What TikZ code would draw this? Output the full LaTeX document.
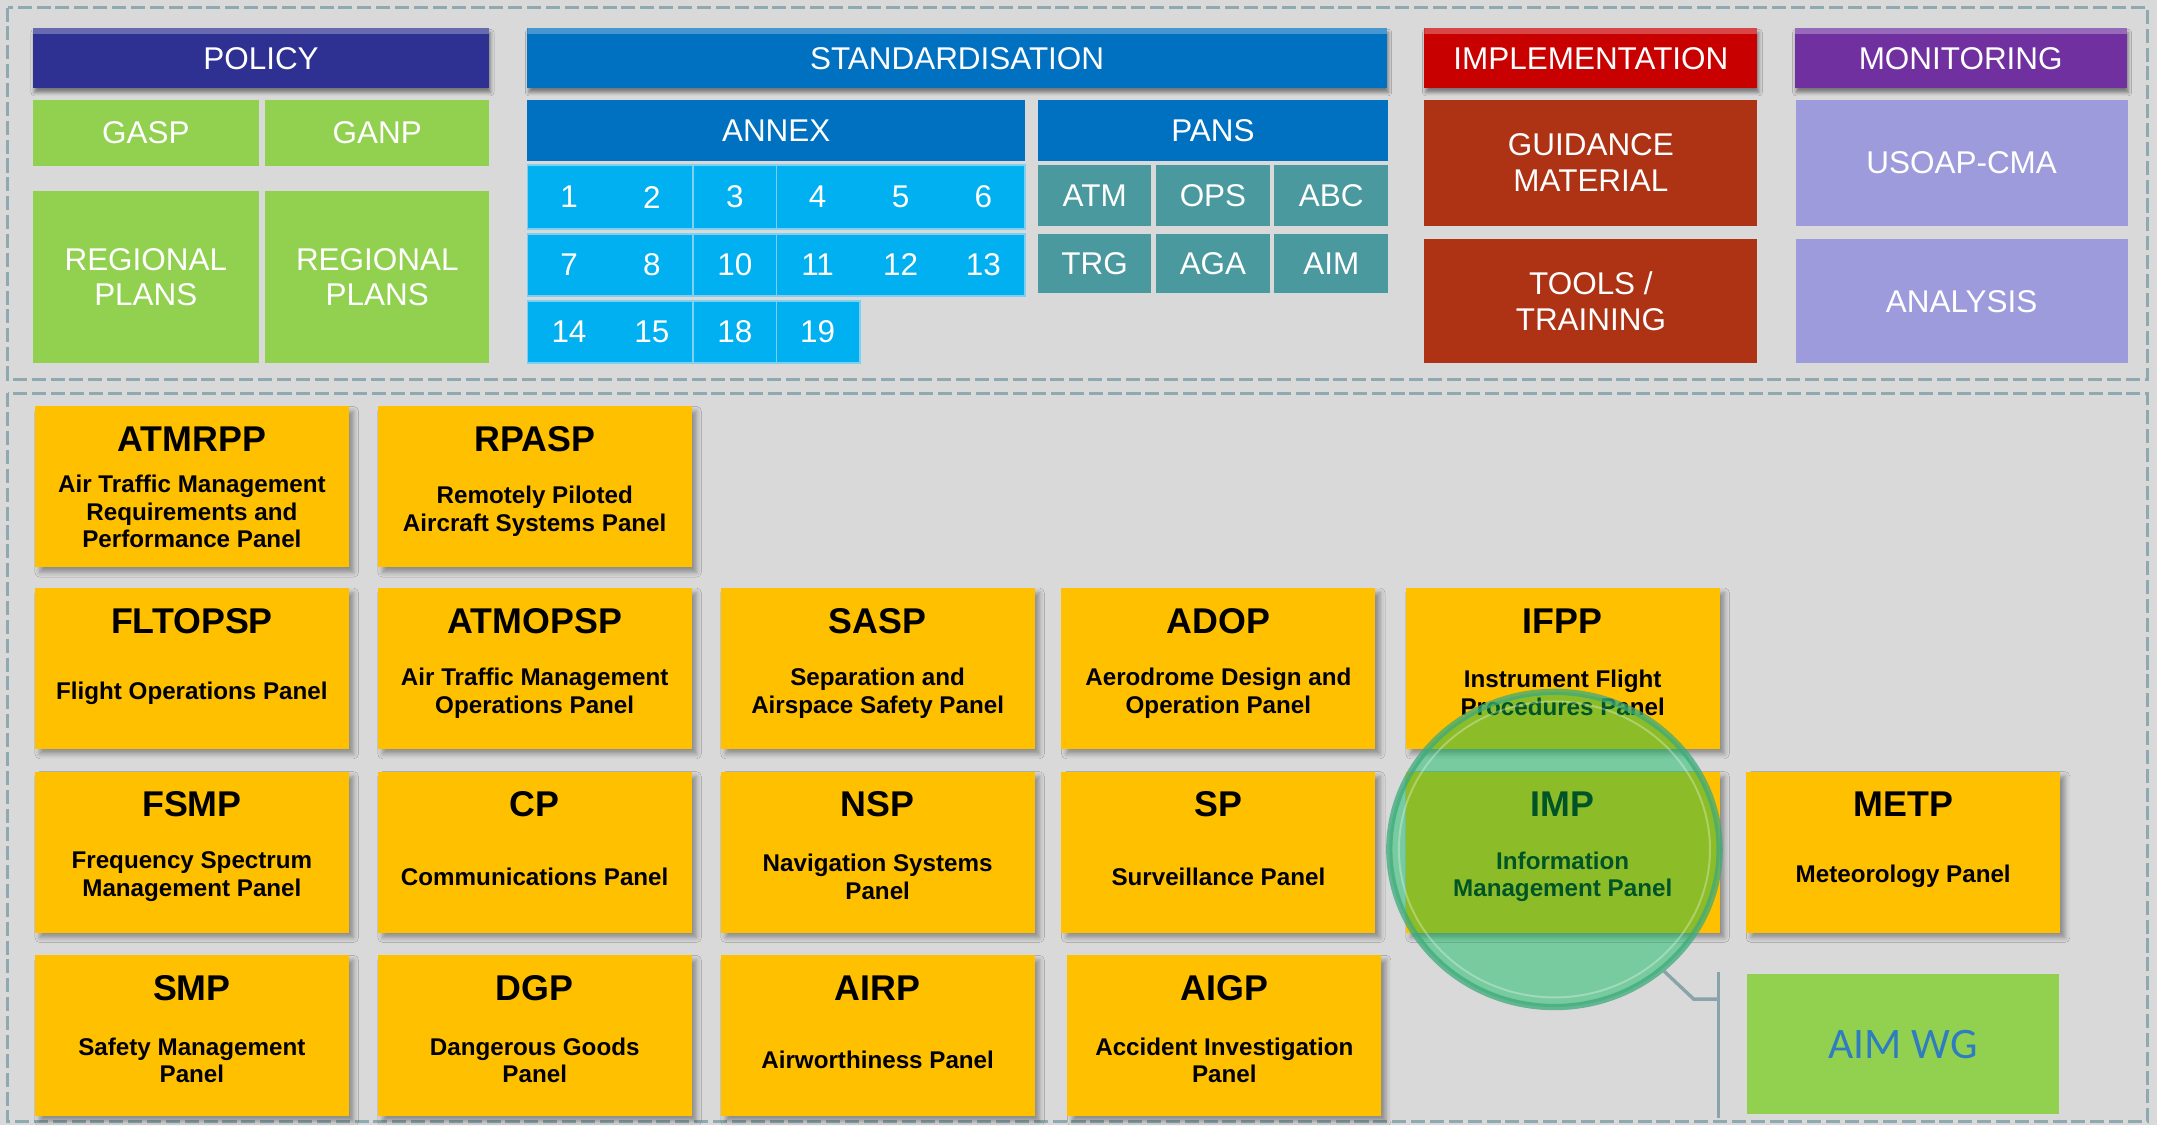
\documentclass[tikz,border=0pt]{standalone}
\usepackage{fontspec}
\setmainfont{Liberation Sans}
\newfontfamily\aimfont{Carlito}
\usetikzlibrary{shapes.geometric,shadows.blur}

\definecolor{bgray}{HTML}{D9D9D9}
\definecolor{frameline}{HTML}{8EA9AF}
\definecolor{policyblue}{HTML}{2E3192}
\definecolor{stdblue}{HTML}{0070C0}
\definecolor{implred}{HTML}{C80000}
\definecolor{monpurple}{HTML}{7030A0}
\definecolor{policygreen}{HTML}{92D050}
\definecolor{annexcyan}{HTML}{00B0F0}
\definecolor{annexline}{HTML}{7FD0EE}
\definecolor{panteal}{HTML}{4A999E}
\definecolor{guidebrown}{HTML}{AE3214}
\definecolor{monlilac}{HTML}{9E9BDD}
\definecolor{panelyellow}{HTML}{FFC000}
\definecolor{imgreen}{RGB}{0,187,89}
\definecolor{imring}{HTML}{3DAA7A}
\definecolor{bracketgray}{HTML}{89A3AA}
\definecolor{aimblue}{HTML}{2F7DC1}

\begin{document}
\begin{tikzpicture}[x=0.01cm,y=-0.01cm,
    header/.style={rectangle, fill=#1, text=white, inner sep=0pt, minimum height=0.434cm,
      font=\fontsize{6.5}{7.4}\selectfont,
      blur shadow={shadow xshift=0.3pt, shadow yshift=-0.9pt, shadow blur radius=0.7pt, shadow opacity=45},
      path picture={\fill[white, opacity=.28] (path picture bounding box.north west)
        rectangle ([yshift=-1.1pt]path picture bounding box.north east);}},
    tile/.style={rectangle, fill=#1, text=white, inner sep=0pt, align=center,
      font=\fontsize{6.5}{7.4}\selectfont},
    cell/.style={rectangle, fill=annexcyan, draw=annexline, line width=0.4pt, inner sep=0pt},
    num/.style={text=white, inner sep=0pt, font=\fontsize{6.5}{7.4}\selectfont},
    panel/.style={rectangle, fill=panelyellow, inner sep=0pt, minimum width=2.28cm, minimum height=1.17cm,
      blur shadow={shadow xshift=1pt, shadow yshift=-1pt, shadow blur radius=1pt, shadow opacity=35}},
    ptitle/.style={inner sep=0pt, font=\bfseries\fontsize{7.4}{8}\selectfont},
    psub/.style={inner sep=0pt, align=center, font=\bfseries\fontsize{5}{5.7}\selectfont},
    dashframe/.style={draw=frameline, line width=0.6pt, dash pattern=on 2.9pt off 1pt},
    bracket/.style={draw=bracketgray, line width=0.7pt}]

  \fill[bgray] (0,0) rectangle (1568,818);
  \draw[dashframe] (5.5,5.5) rectangle (1561,276);
  \draw[dashframe] (5.5,286) rectangle (1561,815.5);

  \node[header=policyblue, minimum width=3.315cm] (policy) at (189.75,42.3) {POLICY};
  \node[header=stdblue, minimum width=6.245cm] (std) at (695.75,42.3) {STANDARDISATION};
  \node[header=implred, minimum width=2.42cm] (impl) at (1156.5,42.3) {IMPLEMENTATION};
  \node[header=monpurple, minimum width=2.414cm] (mon) at (1425.3,42.3) {MONITORING};

  \begin{scope}[every node/.append style={tile=policygreen}]
    \node[minimum width=1.64cm, minimum height=0.48cm] (gasp) at (106,96.7) {GASP};
    \node[minimum width=1.625cm, minimum height=0.48cm] (ganp) at (274.25,96.7) {GANP};
    \node[minimum width=1.64cm, minimum height=1.25cm] (reg1) at (106,201.5) {REGIONAL\\PLANS};
    \node[minimum width=1.625cm, minimum height=1.25cm] (reg2) at (274.25,201.5) {REGIONAL\\PLANS};
  \end{scope}

  \node[tile=stdblue, minimum width=3.615cm, minimum height=0.443cm] (annex) at (564.25,94.85) {ANNEX};
  \node[tile=stdblue, minimum width=2.545cm, minimum height=0.443cm] (pans) at (881.75,94.85) {PANS};

  \foreach \r/\y/\h in {1/143.3/0.466cm, 2/192.5/0.45cm} {
    \node[cell, minimum width=1.2cm, minimum height=\h] (cell\r a) at (443.5,\y) {};
    \node[cell, minimum width=0.61cm, minimum height=\h] (cell\r b) at (534,\y) {};
    \node[cell, minimum width=1.805cm, minimum height=\h] (cell\r c) at (654.75,\y) {};
  }
  \node[cell, minimum width=1.2cm, minimum height=0.454cm] (cell3a) at (443.5,241.3) {};
  \node[cell, minimum width=0.61cm, minimum height=0.454cm] (cell3b) at (534,241.3) {};
  \node[cell, minimum width=0.605cm, minimum height=0.454cm] (cell3c) at (594.75,241.3) {};

  \foreach \lbl [count=\i] in {1,2,3,4,5,6}
    \node[num] (annex-\lbl) at ({383.5+60.25*(\i-0.5)},143.3) {\lbl};
  \foreach \lbl [count=\i] in {7,8,10,11,12,13}
    \node[num] (annex-\lbl) at ({383.5+60.25*(\i-0.5)},192.5) {\lbl};
  \foreach \lbl [count=\i] in {14,15,18,19}
    \node[num] (annex-\lbl) at ({383.5+60.25*(\i-0.5)},241.3) {\lbl};

  \begin{scope}[every node/.append style={tile=panteal, minimum width=0.825cm}]
    \node[minimum height=0.44cm] (pans-atm) at (795.75,142) {ATM};
    \node[minimum height=0.44cm] (pans-ops) at (881.75,142) {OPS};
    \node[minimum height=0.44cm] (pans-abc) at (967.75,142) {ABC};
    \node[minimum height=0.428cm] (pans-trg) at (795.75,191.4) {TRG};
    \node[minimum height=0.428cm] (pans-aga) at (881.75,191.4) {AGA};
    \node[minimum height=0.428cm] (pans-aim) at (967.75,191.4) {AIM};
  \end{scope}

  \node[tile=guidebrown, minimum width=2.42cm, minimum height=0.913cm] (guidance) at (1156.5,118.35) {GUIDANCE\\MATERIAL};
  \node[tile=guidebrown, minimum width=2.42cm, minimum height=0.9cm] (tools) at (1156.5,219) {TOOLS /\\TRAINING};
  \node[tile=monlilac, minimum width=2.41cm, minimum height=0.913cm] (usoap) at (1426,118.35) {USOAP-CMA};
  \node[tile=monlilac, minimum width=2.41cm, minimum height=0.9cm] (analysis) at (1426,219) {ANALYSIS};

  \foreach \name/\x/\y/\ttl/\sub in {
      atmrpp/139.5/354/ATMRPP/{Air Traffic Management\\Requirements and\\Performance Panel},
      rpasp/388.7/354/RPASP/{Remotely Piloted\\Aircraft Systems Panel},
      fltopsp/139.5/486/FLTOPSP/{Flight Operations Panel},
      atmopsp/388.7/486/ATMOPSP/{Air Traffic Management\\Operations Panel},
      sasp/638/486/SASP/{Separation and\\Airspace Safety Panel},
      adop/885.7/486/ADOP/{Aerodrome Design and\\Operation Panel},
      ifpp/1136/486/IFPP/{Instrument Flight\\Procedures Panel},
      fsmp/139.5/619.5/FSMP/{Frequency Spectrum\\Management Panel},
      cp/388.7/619.5/CP/{Communications Panel},
      nsp/638/619.5/NSP/{Navigation Systems\\Panel},
      sp/885.7/619.5/SP/{Surveillance Panel},
      imp/1136/619.5/IMP/{Information\\Management Panel},
      metp/1383.5/619.5/METP/{Meteorology Panel},
      smp/139.5/753/SMP/{Safety Management\\Panel},
      dgp/388.7/753/DGP/{Dangerous Goods\\Panel},
      airp/638/753/AIRP/{Airworthiness Panel},
      aigp/890/753/AIGP/{Accident Investigation\\Panel}} {
    \node[panel] (\name) at (\x,\y) {};
    \node[ptitle] (\name-t) at ([yshift=-0.245cm]\name.north) {\ttl};
    \node[psub] (\name-s) at ([yshift=-0.77cm]\name.north) {\sub};
  }

  \node[tile=policygreen, text=aimblue, minimum width=2.27cm, minimum height=1.02cm,
    font=\aimfont\fontsize{9}{10}\selectfont] (aimwg) at (1383.5,759) {AIM WG};

  \node[ellipse, inner sep=0pt, minimum width=2.4cm, minimum height=2.29cm,
    fill=imgreen, fill opacity=.45, draw=imring, draw opacity=.75, line width=1.3pt] (imp-ring) at (1130,617.5) {};
  \draw[white, opacity=.3, line width=0.4pt] (imp-ring.center) ellipse [x radius=1.13cm, y radius=1.075cm];

  \coordinate (aim-bend) at ([xshift=-0.38cm, yshift=-0.19cm]aimwg.north west);
  \coordinate (aim-joint) at ([xshift=-0.2cm, yshift=-0.19cm]aimwg.north west);
  \draw[bracket] (imp-ring.-48) -- (aim-bend) -- (aim-joint);
  \draw[bracket] ([xshift=-0.2cm, yshift=0.01cm]aimwg.north west) -- ([xshift=-0.2cm, yshift=-0.02cm]aimwg.south west);

\end{tikzpicture}
\end{document}
